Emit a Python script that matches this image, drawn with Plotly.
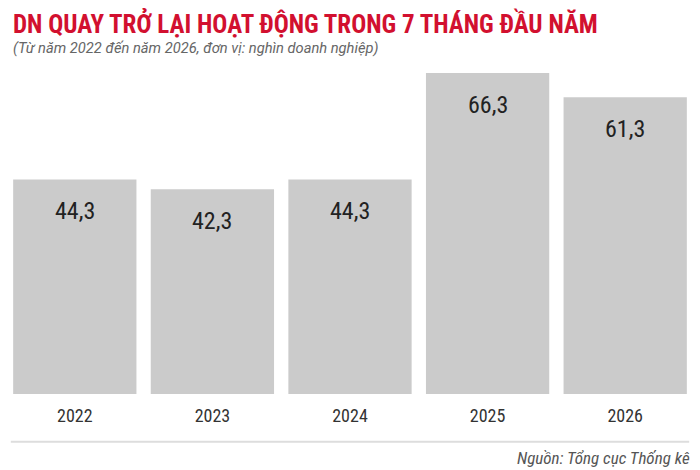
import plotly.graph_objects as go

years = ["2022", "2023", "2024", "2025", "2026"]
values = [44.3, 42.3, 44.3, 66.3, 61.3]
labels = ["44,3", "42,3", "44,3", "66,3", "61,3"]

title = "DN QUAY TRỞ LẠI HOẠT ĐỘNG TRONG 7 THÁNG ĐẦU NĂM"
subtitle = "(Từ năm 2022 đến năm 2026, đơn vị: nghìn doanh nghiệp)"
source = "Nguồn: Tổng cục Thống kê"

condensed = "Roboto Condensed, Liberation Sans Narrow, DejaVu Sans Condensed, Roboto"

W, H = 700, 470
fig = go.Figure()
fig.add_trace(go.Bar(
    x=years, y=values,
    marker=dict(color="#cbcbcb", line=dict(width=0)),
    hoverinfo="skip",
))

for i, (v, lab) in enumerate(zip(values, labels)):
    fig.add_annotation(
        x=i, y=v, text=lab, showarrow=False,
        yanchor="middle", yshift=-32,
        font=dict(family=condensed, size=24, color="#222222"),
    )

fig.add_annotation(
    xref="paper", yref="paper", x=0, y=1.0,
    xanchor="left", yanchor="middle", xshift=5, yshift=32.5,
    text="<b>" + title + "</b>", showarrow=False,
    font=dict(family=condensed, size=25, color="#d2102f"),
)
fig.add_annotation(
    xref="paper", yref="paper", x=0, y=1.0,
    xanchor="left", yanchor="middle", xshift=5, yshift=7,
    text="<i>" + subtitle + "</i>", showarrow=False,
    font=dict(family="Roboto", size=14.7, color="#666666"),
)
fig.add_annotation(
    xref="paper", yref="paper", x=1, y=0,
    xanchor="right", yanchor="middle", xshift=-2, yshift=-64,
    text="<i>" + source + "</i>", showarrow=False,
    font=dict(family=condensed, size=17, color="#555555"),
)

fig.update_layout(
    width=W, height=H,
    margin=dict(l=5.5, r=6, t=54.5, b=76),
    paper_bgcolor="white", plot_bgcolor="white",
    bargap=0.104,
    showlegend=False,
    hovermode=False,
    xaxis=dict(
        type="category", range=[-0.5, 4.5],
        showgrid=False, zeroline=False, showline=False,
        ticks="outside", ticklen=5, tickcolor="rgba(0,0,0,0)",
        tickfont=dict(family=condensed, size=18, color="#333333"),
        fixedrange=True,
    ),
    yaxis=dict(
        range=[0, 70], showgrid=False, zeroline=False, showline=False,
        showticklabels=False, fixedrange=True,
    ),
    shapes=[dict(
        type="line", xref="paper", yref="paper",
        x0=0.007, x1=0.993, y0=-0.1405, y1=-0.1405,
        line=dict(color="#dddddd", width=2),
    )],
)

fig.write_html("out.html", config={"displayModeBar": False},
               post_script="document.body.style.margin='0';")
